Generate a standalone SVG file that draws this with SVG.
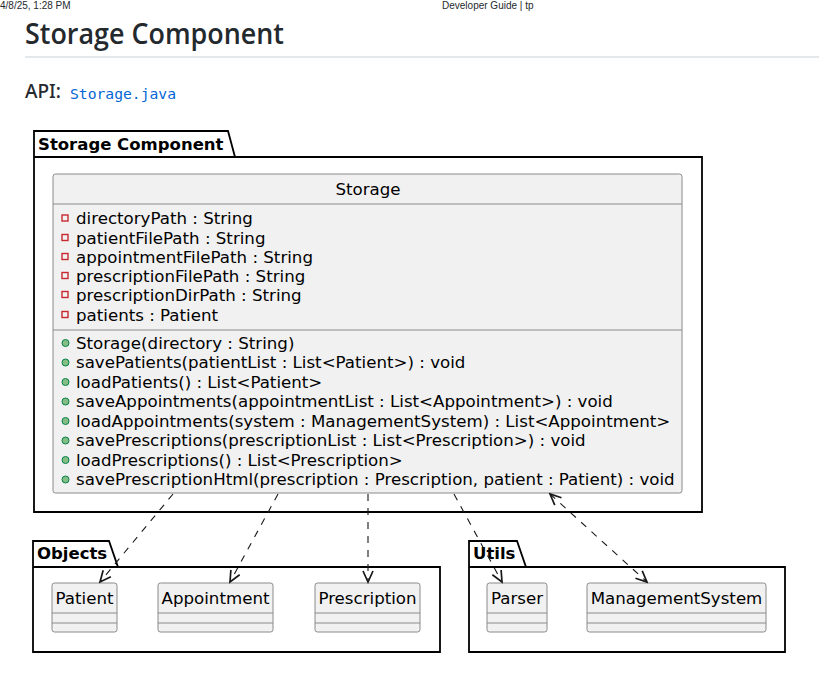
<svg xmlns="http://www.w3.org/2000/svg" width="819" height="682" viewBox="0 0 819 682">
<style>
.page{font-family:"Liberation Sans",Arial,sans-serif;fill:#24292e}
.uml{font-family:"DejaVu Sans",Verdana,sans-serif;font-size:16.65px;fill:#000}
.pkgname{font-family:"DejaVu Sans",Verdana,sans-serif;font-size:16.5px;font-weight:bold;fill:#000}
.pkg{fill:none;stroke:#000;stroke-width:1.8}
.cls{fill:#F1F1F1;stroke:#8a8a8a;stroke-width:1}
.div{stroke:#8a8a8a;stroke-width:1}
.priv{fill:none;stroke:#C82930;stroke-width:1.4}
.pub{fill:#84BE84;stroke:#038048;stroke-width:1}
.dep{fill:none;stroke:#181818;stroke-width:1.1;stroke-dasharray:7,7}
</style>
<defs>
<marker id="arr" markerUnits="userSpaceOnUse" viewBox="-12 -7 14 14" markerWidth="14" markerHeight="14" refX="0" refY="0" orient="auto-start-reverse">
<path d="M-11,-5 L0,0 L-11,5" fill="none" stroke="#181818" stroke-width="1.7" stroke-dasharray="none"/>
</marker>
</defs>
<rect width="819" height="682" fill="#fff"/>

<g id="page-header">
<text class="page" x="0" y="9" font-size="10" fill="#000">4/8/25, 1:28 PM</text>
<text class="page" x="442" y="9" font-size="10" fill="#000">Developer Guide | tp</text>
<text class="page" x="25" y="44" font-size="28" font-weight="600" style="font-family:'Open Sans','Noto Sans',sans-serif" textLength="259" lengthAdjust="spacingAndGlyphs">Storage Component</text>
<rect x="25" y="56" width="794" height="2" fill="#e4e8eb"/>
<text class="page" x="25" y="98" font-size="19" font-weight="500" style="font-family:'Noto Sans','Open Sans',sans-serif">API:</text>
<text x="70" y="99" font-size="14.5" fill="#0366d6" style="font-family:'DejaVu Sans Mono','Liberation Mono',monospace" textLength="106" lengthAdjust="spacingAndGlyphs">Storage.java</text>
</g>

<g id="pkg-storage-component">
<path class="pkg" d="M34,157 L34,131 L228,131 L235,157 L702,157 L702,512 L34,512 Z"/>
<line x1="34" y1="157" x2="235" y2="157" stroke="#000" stroke-width="1.8"/>
<text class="pkgname" x="38" y="150">Storage Component</text>
</g>

<g id="class-storage">
<rect class="cls" x="53" y="174" width="629" height="319" rx="2.5"/>
<line class="div" x1="53" y1="204" x2="682" y2="204"/>
<line class="div" x1="53" y1="330" x2="682" y2="330"/>
<text class="uml" x="368" y="195" text-anchor="middle">Storage</text>
<rect class="priv" x="62" y="215" width="6" height="6"/>
<text class="uml" x="76" y="224">directoryPath : String</text>
<rect class="priv" x="62" y="234.5" width="6" height="6"/>
<text class="uml" x="76" y="244">patientFilePath : String</text>
<rect class="priv" x="62" y="253.5" width="6" height="6"/>
<text class="uml" x="76" y="263">appointmentFilePath : String</text>
<rect class="priv" x="62" y="272.5" width="6" height="6"/>
<text class="uml" x="76" y="282">prescriptionFilePath : String</text>
<rect class="priv" x="62" y="291.5" width="6" height="6"/>
<text class="uml" x="76" y="301">prescriptionDirPath : String</text>
<rect class="priv" x="62" y="311.5" width="6" height="6"/>
<text class="uml" x="76" y="321">patients : Patient</text>
<circle class="pub" cx="65.5" cy="343" r="3.5"/>
<text class="uml" x="76" y="349">Storage(directory : String)</text>
<circle class="pub" cx="65.5" cy="362.5" r="3.5"/>
<text class="uml" x="76" y="368">savePatients(patientList : List&lt;Patient&gt;) : void</text>
<circle class="pub" cx="65.5" cy="382" r="3.5"/>
<text class="uml" x="76" y="388">loadPatients() : List&lt;Patient&gt;</text>
<circle class="pub" cx="65.5" cy="401.5" r="3.5"/>
<text class="uml" x="76" y="407">saveAppointments(appointmentList : List&lt;Appointment&gt;) : void</text>
<circle class="pub" cx="65.5" cy="421" r="3.5"/>
<text class="uml" x="76" y="427">loadAppointments(system : ManagementSystem) : List&lt;Appointment&gt;</text>
<circle class="pub" cx="65.5" cy="440.5" r="3.5"/>
<text class="uml" x="76" y="446">savePrescriptions(prescriptionList : List&lt;Prescription&gt;) : void</text>
<circle class="pub" cx="65.5" cy="460" r="3.5"/>
<text class="uml" x="76" y="466">loadPrescriptions() : List&lt;Prescription&gt;</text>
<circle class="pub" cx="65.5" cy="479.5" r="3.5"/>
<text class="uml" x="76" y="485">savePrescriptionHtml(prescription : Prescription, patient : Patient) : void</text>
</g>

<g id="pkg-objects">
<path class="pkg" d="M33,567 L33,541 L109,541 L118,567 L440,567 L440,652 L33,652 Z"/>
<line x1="33" y1="567" x2="118" y2="567" stroke="#000" stroke-width="1.8"/>
<text class="pkgname" x="37" y="559">Objects</text>
</g>

<g id="class-patient">
<rect class="cls" x="52" y="583" width="65" height="49" rx="2.5"/>
<line class="div" x1="52" y1="613" x2="117" y2="613"/>
<line class="div" x1="52" y1="623" x2="117" y2="623"/>
<text class="uml" x="84.5" y="604" text-anchor="middle">Patient</text>
</g>

<g id="class-appointment">
<rect class="cls" x="158" y="583" width="115" height="49" rx="2.5"/>
<line class="div" x1="158" y1="613" x2="273" y2="613"/>
<line class="div" x1="158" y1="623" x2="273" y2="623"/>
<text class="uml" x="215.5" y="604" text-anchor="middle">Appointment</text>
</g>

<g id="class-prescription">
<rect class="cls" x="315" y="583" width="105" height="49" rx="2.5"/>
<line class="div" x1="315" y1="613" x2="420" y2="613"/>
<line class="div" x1="315" y1="623" x2="420" y2="623"/>
<text class="uml" x="367.5" y="604" text-anchor="middle">Prescription</text>
</g>

<g id="pkg-utils">
<path class="pkg" d="M469,567 L469,541 L517,541 L526,567 L785,567 L785,652 L469,652 Z"/>
<line x1="469" y1="567" x2="526" y2="567" stroke="#000" stroke-width="1.8"/>
<text class="pkgname" x="473" y="559">Utils</text>
</g>

<g id="class-parser">
<rect class="cls" x="487" y="583" width="60" height="49" rx="2.5"/>
<line class="div" x1="487" y1="613" x2="547" y2="613"/>
<line class="div" x1="487" y1="623" x2="547" y2="623"/>
<text class="uml" x="517" y="604" text-anchor="middle">Parser</text>
</g>

<g id="class-managementsystem">
<rect class="cls" x="587" y="583" width="179" height="49" rx="2.5"/>
<line class="div" x1="587" y1="613" x2="766" y2="613"/>
<line class="div" x1="587" y1="623" x2="766" y2="623"/>
<text class="uml" x="676.5" y="604" text-anchor="middle">ManagementSystem</text>
</g>

<g id="connectors">
<path class="dep" d="M173,494 L100,582" marker-end="url(#arr)"/>
<path class="dep" d="M278,494 L230,582" marker-end="url(#arr)"/>
<path class="dep" d="M368,494 L368,582" marker-end="url(#arr)"/>
<path class="dep" d="M454,494 L502,582" marker-end="url(#arr)"/>
<path class="dep" d="M550,494 L647,582" marker-start="url(#arr)" marker-end="url(#arr)"/>
</g>
</svg>
